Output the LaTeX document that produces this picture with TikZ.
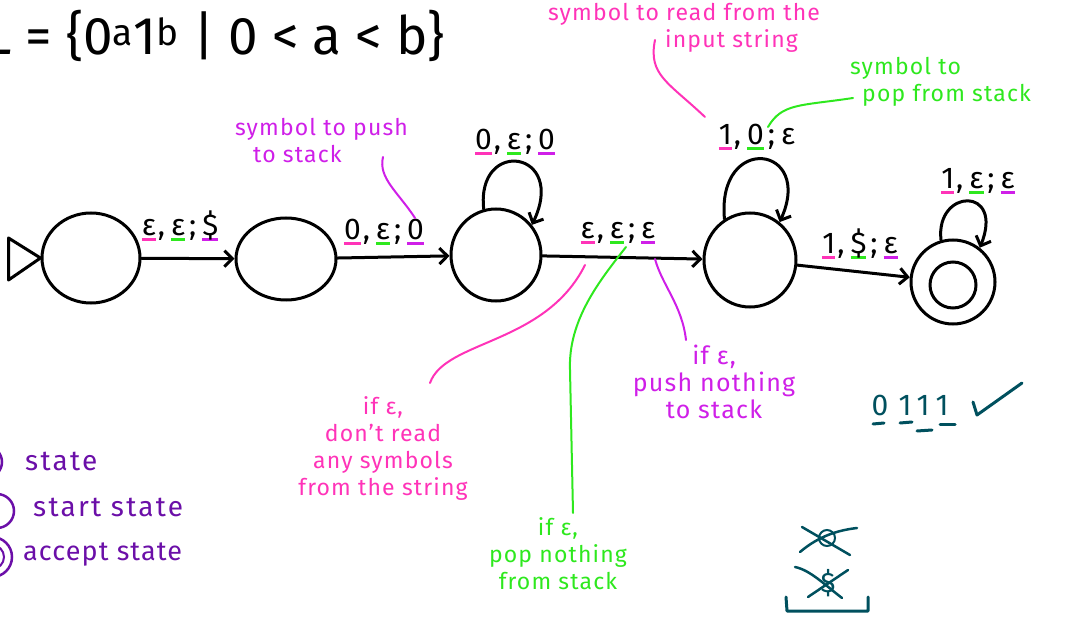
\documentclass[tikz,border=0pt]{standalone}
\usepackage{fontspec}
\setmainfont{Fira Sans}
\usetikzlibrary{arrows.meta,shapes.geometric}
\definecolor{hpink}{HTML}{FF33B8}
\definecolor{hgreen}{HTML}{2EE81E}
\definecolor{hpurp}{HTML}{CF1FE8}
\definecolor{lpurp}{HTML}{6B0FA8}
\definecolor{dteal}{HTML}{00505E}
\newcommand{\ulc}[2]{\setbox0=\hbox{#2}\rlap{\textcolor{#1}{\rule[-6pt]{\wd0}{3pt}}}\box0}
\newcommand{\lcomma}{\kern2pt,\kern6pt}
\newcommand{\lsemi}{\kern4pt;\kern6pt}
\begin{document}
\begin{tikzpicture}[x=1pt,y=-1pt,
  st/.style={draw,ellipse,line width=3pt,inner sep=0pt},
  edge/.style={line width=3pt,line cap=round,-{Straight Barb[length=8pt,width=16pt]}},
  lab/.style={font=\fontsize{30}{32}\selectfont,inner sep=0pt},
  note/.style={font=\fontsize{23}{27}\selectfont\addfontfeature{LetterSpace=5},inner sep=0pt},
  leg/.style={font=\fontsize{28}{30}\selectfont\addfontfeature{LetterSpace=8},inner sep=0pt,anchor=west,text=lpurp},
  ptr/.style={line width=2pt,line cap=round},
  tl/.style={draw=dteal,line width=3pt,line cap=round}]
\useasboundingbox (0,0) rectangle (1068,617);

% title
\node[anchor=west,inner sep=0pt,font=\fontsize{53}{56}\selectfont] (title) at (-15,36) {L = \{0\textsuperscript{a}1\textsuperscript{b} | 0 < a < b\}};

% states
\node[st,minimum width=98pt,minimum height=90pt] (s1) at (91,258) {};
\node[st,minimum width=100pt,minimum height=82pt] (s2) at (286,259) {};
\node[st,minimum width=90pt,minimum height=92pt] (s3) at (496,255) {};
\node[st,minimum width=92pt,minimum height=94pt] (s4) at (750,260) {};
\node[st,minimum width=84pt,minimum height=84pt] (s5) at (953,282) {};
\node[st,minimum width=46pt,minimum height=46pt] (s5in) at (953,285) {};

% start marker
\draw[line width=3pt,line join=round] (s1.west) -- ++(-32,-20) -- ++(0,42) -- cycle;

% transitions
\draw[edge] (s1) -- (s2);
\draw[edge] (s2) -- (s3);
\draw[edge] (s3) -- (s4);
\draw[edge] (s4) -- (s5);
\draw[edge] (s3.105) .. controls +(-8,-72) and +(36,-75) .. (s3.40);
\draw[edge] (s4.122) .. controls +(-8,-87) and +(35,-77) .. (s4.52);
\draw[edge] (s5.106) .. controls +(-6,-52) and +(25,-62) .. (s5.52);

% labels
\node[lab] (l12) at (180,226) {\ulc{hpink}{ε}\lcomma\ulc{hgreen}{ε}\lsemi\ulc{hpurp}{\$}};
\node[lab] (l23) at (384,232) {\ulc{hpink}{0}\lcomma\ulc{hgreen}{ε}\lsemi\ulc{hpurp}{0}};
\node[lab] (l33) at (515,142) {\ulc{hpink}{0}\lcomma\ulc{hgreen}{ε}\lsemi\ulc{hpurp}{0}};
\node[lab] (l34) at (618,233) {\ulc{hpink}{ε}\lcomma\ulc{hgreen}{ε}\lsemi\ulc{hpurp}{ε}};
\node[lab] (l44) at (757,137) {\ulc{hpink}{1}\lcomma\ulc{hgreen}{0}\lsemi ε};
\node[lab] (l45) at (860,244) {\ulc{hpink}{1}\lcomma\ulc{hgreen}{\$}\lsemi\ulc{hpurp}{ε}};
\node[lab] (l55) at (978,181) {\ulc{hpink}{1}\lcomma\ulc{hgreen}{ε}\lsemi\ulc{hpurp}{ε}};

% annotations
\node[note,text=hpurp,align=left,anchor=north west] (n1) at (235,118) {symbol to push\\\hspace*{18pt}to stack};
\node[note,text=hpink,align=left,anchor=north west] (n2) at (548,3) {symbol to read from the\\\hspace*{117pt}input string};
\node[note,text=hgreen,align=left,anchor=north west] (n3) at (850,57) {symbol to\\\hspace*{12pt}pop from stack};
\node[note,text=hpink,align=center] (n4) at (383,448) {if ε,\\don't read\\any symbols\\from the string};
\node[note,text=hgreen,align=center] (n5) at (558,554) {if ε,\\pop nothing\\from stack};
\node[note,text=hpurp,align=center,font=\fontsize{25}{27}\selectfont\addfontfeature{LetterSpace=5}] (n6) at (714,382) {if ε,\\push nothing\\to stack};

\coordinate (p1a) at (383,157);
\coordinate (p1b) at (415,218);
\draw[ptr,hpurp] (p1a) .. controls (378,178) and (398,192) .. (p1b);
\coordinate (p2a) at (655,40);
\coordinate (p2b) at (705,117);
\draw[ptr,hpink] (p2a) .. controls (648,75) and (668,82) .. (p2b);
\coordinate (p3a) at (853,98);
\coordinate (p3b) at (768,127);
\draw[ptr,hgreen] (p3a) .. controls (800,106) and (782,103) .. (p3b);
\coordinate (p4a) at (430,383);
\coordinate (p4b) at (585,265);
\draw[ptr,hpink] (p4a) .. controls (445,340) and (545,345) .. (p4b);
\coordinate (p5a) at (573,513);
\coordinate (p5m) at (570,370);
\coordinate (p5b) at (626,247);
\draw[ptr,hgreen] (p5a) -- (p5m) .. controls (568,320) and (600,280) .. (p5b);
\coordinate (p6a) at (686,340);
\coordinate (p6b) at (655,259);
\draw[ptr,hpurp] (p6a) .. controls (682,305) and (662,285) .. (p6b);

% legend
\draw[lpurp,line width=2.5pt] (-14,462) circle (16);
\draw[lpurp,line width=2.5pt] (-3,511) circle (17);
\draw[lpurp,line width=2.5pt] (-8,557) circle (20);
\draw[lpurp,line width=2pt] (-8,557) circle (12);
\node[leg] (g1) at (25,461) {state};
\node[leg] (g2) at (33,507) {start state};
\node[leg,font=\fontsize{27}{30}\selectfont\addfontfeature{LetterSpace=4}] (g3) at (23,555) {accept state};

% example string
\begin{scope}[every node/.style={text=dteal,inner sep=0pt,font=\fontsize{30}{32}\selectfont}]
\node (d0) at (880,405) {0};
\node (d1) at (905,405) {1};
\node (d2) at (923,405) {1};
\node (d3) at (942,405) {1};
\end{scope}
\draw[tl] (873,424) -- (884,423);
\draw[tl] (900,423) -- (912,422);
\draw[tl] (917,431) -- (932,430);
\draw[tl] (940,424) -- (955,424);
\draw[tl,line join=round] (973,402) -- (977,415) -- (1022,383);

% crossed out stack symbols
\draw[draw=dteal,line width=2pt] (827,538) circle (8);
\draw[tl,line width=2.5pt] (802,527) -- (850,555);
\draw[tl,line width=2.5pt] (800,552) .. controls (820,535) and (840,530) .. (857,528);
\node[text=dteal,inner sep=0pt,font=\fontsize{28}{30}\selectfont] (dol) at (828,583) {\$};
\draw[tl,line width=2.5pt] (795,567) .. controls (810,570) and (825,585) .. (842,598);
\draw[tl,line width=2.5pt] (808,597) -- (848,570);
\draw[tl,line join=round] (786,597) -- (787,611) -- (868,611) -- (868,597);
\end{tikzpicture}
\end{document}
